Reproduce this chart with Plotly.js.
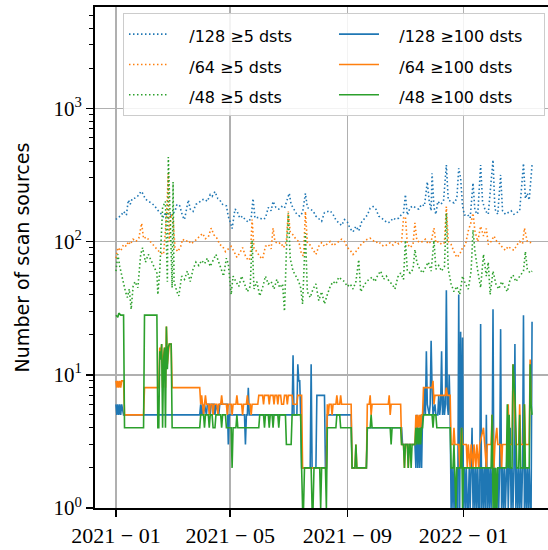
<!DOCTYPE html>
<html><head><meta charset="utf-8">
<script src="https://cdn.plot.ly/plotly-3.0.1.min.js"></script>
<style>html,body{margin:0;padding:0;overflow:hidden;background:#fff}#chart{width:560px;height:550px}</style>
</head><body><div id="chart"></div>
<script>
// day offsets from START_DATE
const START_DATE = '2021-01-01';

const blue5 = [[0,146],[2,152],[5,155],[8,168],[11,158],[13,205],[15,190],[17,210],[20,212],[22,216],[25,228],[26,238],[28,230],[31,208],[34,200],[37,195],[40,187],[42,178],[45,168],[48,160],[50,152],[52,165],[55,150],[58,160],[62,168],[64,190],[67,185],[70,155],[72,146],[76,205],[78,175],[81,168],[84,190],[87,195],[90,205],[93,208],[96,200],[99,225],[101,218],[104,237],[107,210],[109,205],[112,190],[116,185],[118,154],[120,140],[122,125],[125,175],[127,170],[130,150],[133,155],[136,145],[139,140],[142,150],[144,210],[146,150],[150,152],[154,146],[157,150],[160,180],[163,170],[165,200],[168,180],[171,175],[174,183],[177,178],[182,230],[184,190],[187,175],[190,160],[193,155],[196,165],[199,230],[201,180],[204,175],[207,170],[210,155],[213,148],[216,142],[219,165],[222,168],[225,170],[228,160],[231,145],[234,138],[237,132],[240,146],[243,140],[246,125],[249,118],[252,130],[255,120],[258,140],[261,150],[264,158],[267,178],[270,183],[273,175],[276,155],[279,150],[282,145],[285,138],[288,140],[291,150],[294,146],[297,150],[300,160],[302,165],[304,225],[306,158],[309,180],[312,185],[315,178],[318,175],[321,190],[324,185],[327,280],[329,200],[331,170],[332,325],[334,180],[336,160],[338,200],[341,190],[344,200],[347,375],[349,205],[352,200],[355,195],[358,210],[360,355],[362,300],[364,185],[366,158],[369,160],[372,150],[375,275],[377,170],[380,160],[383,375],[385,200],[388,170],[391,160],[396,410],[398,175],[401,160],[404,316],[406,170],[409,160],[412,165],[415,170],[418,160],[421,165],[424,170],[428,385],[430,210],[432,230],[434,205],[437,375]];

const orange5 = [[0,75],[2,90],[5,85],[8,95],[11,92],[13,100],[15,95],[18,104],[21,100],[24,106],[27,137],[29,105],[32,108],[35,102],[38,96],[41,90],[44,86],[47,82],[50,80],[53,150],[55,325],[56,100],[58,160],[60,150],[62,90],[65,84],[68,92],[70,104],[73,100],[76,102],[79,96],[82,100],[85,104],[88,110],[91,115],[94,105],[97,108],[100,126],[103,112],[106,106],[109,95],[112,92],[115,84],[118,88],[121,92],[124,84],[127,76],[130,82],[133,90],[136,78],[139,72],[141,75],[143,146],[145,88],[148,84],[151,77],[154,74],[157,92],[160,95],[163,88],[165,126],[167,100],[170,96],[173,98],[176,90],[179,100],[181,168],[183,118],[186,112],[189,104],[192,100],[195,80],[197,78],[199,168],[201,98],[204,94],[207,86],[210,80],[213,92],[216,98],[219,92],[222,96],[225,100],[228,93],[231,96],[234,100],[237,104],[240,100],[243,90],[246,86],[249,80],[252,84],[255,90],[258,96],[261,100],[264,104],[267,106],[270,102],[273,98],[276,100],[279,94],[282,92],[285,95],[288,98],[291,94],[294,100],[297,96],[300,100],[302,150],[304,154],[306,96],[309,90],[312,95],[314,138],[316,102],[319,98],[322,100],[325,104],[328,96],[331,100],[334,126],[336,98],[339,100],[342,95],[345,98],[347,183],[349,100],[352,95],[355,84],[358,76],[361,80],[364,90],[367,94],[370,120],[373,140],[375,163],[377,120],[380,100],[383,130],[386,110],[389,125],[391,95],[394,100],[397,110],[400,100],[403,96],[406,90],[409,86],[412,92],[415,88],[418,86],[421,94],[424,100],[427,96],[429,126],[432,100],[435,98],[437,100]];

const green5 = [[0,60],[2,80],[4,65],[6,55],[8,48],[10,42],[12,38],[14,44],[16,31],[18,46],[20,50],[23,45],[26,80],[28,90],[31,70],[34,80],[37,72],[40,65],[43,58],[44,40],[46,60],[49,180],[52,200],[54,50],[55,430],[57,150],[59,45],[60,280],[61,50],[64,42],[66,39],[69,55],[72,52],[75,60],[78,50],[81,62],[84,70],[87,66],[90,72],[93,68],[96,75],[99,65],[102,72],[105,80],[108,70],[111,60],[113,55],[116,75],[118,68],[121,40],[123,55],[126,50],[129,46],[132,55],[135,48],[138,42],[141,46],[143,102],[145,44],[148,50],[151,39],[154,45],[157,55],[160,48],[163,50],[166,44],[169,52],[172,45],[175,48],[177,30],[179,85],[181,163],[183,75],[186,60],[189,55],[192,50],[194,45],[196,34],[199,116],[201,42],[204,38],[207,44],[210,48],[213,36],[216,42],[219,34],[222,40],[225,46],[228,50],[231,48],[234,54],[237,52],[240,50],[243,46],[246,48],[249,44],[252,50],[255,73],[257,42],[260,46],[263,50],[266,52],[269,54],[272,50],[275,56],[278,60],[281,52],[284,55],[287,50],[290,48],[293,44],[296,54],[299,58],[302,52],[304,102],[306,60],[309,58],[312,62],[314,87],[316,70],[319,62],[322,58],[325,64],[328,70],[331,60],[334,102],[336,62],[339,66],[342,60],[345,65],[347,163],[349,62],[352,48],[355,42],[358,46],[361,40],[364,55],[367,48],[370,44],[373,60],[375,122],[377,85],[380,60],[383,45],[386,80],[389,55],[391,70],[393,40],[396,60],[399,48],[402,44],[405,50],[408,46],[411,42],[414,52],[417,56],[420,50],[423,54],[426,58],[428,60],[430,84],[432,62],[435,58],[437,60]];

const blue100 = [[0,6],[1,5],[2,6],[3,5],[4,6],[5,5],[6,6],[8,5],[88,5],[89,6],[90,5],[91,6],[92,5],[93,6],[95,5],[96,6],[98,6],[99,5],[100,6],[103,6],[104,5],[105,6],[108,5],[109,6],[117,6],[118,3],[119,5],[135,5],[136,3],[137,5],[138,5],[139,8],[140,5],[185,5],[186,14],[187,5],[190,5],[191,12],[192,9],[193,9],[194,5],[195,2],[204,2],[205,12],[206,2],[210,2],[211,7],[219,7],[220,2],[221,2],[222,5],[247,5],[248,2],[263,2],[264,4],[300,4],[301,3],[314,3],[315,2],[316,5],[317,2],[318,4],[319,2],[320,5],[321,2],[322,5],[323,5],[324,8],[325,5],[326,15],[327,6],[329,5],[330,6],[331,18],[332,8],[333,5],[335,6],[336,5],[338,5],[339,7],[340,5],[341,6],[342,15],[343,5],[344,7],[345,5],[346,6],[347,43],[348,6],[349,5],[350,10],[351,5],
[352,1],[353,2],[354,1],[355,2],[356,1],[357,1],[358,2],[359,1],[360,40],[361,1],[362,21],[363,2],[364,19],[365,1],[366,2],[367,1],[368,2],[369,1],[370,1],[371,2],[372,1],[373,2],[374,4],[375,1],[376,2],[377,1],[378,2],[379,1],[380,2],[381,1],[382,1],[383,24],[384,1],[385,2],[386,1],[387,2],[388,1],[389,5],[390,1],[391,2],[392,1],[393,2],[394,1],[395,2],[396,31],[397,1],[398,2],[399,1],[400,1],[401,2],[402,1],[403,2],[404,22],[405,1],[406,2],[407,1],[408,2],[409,1],[410,2],[411,3],[412,1],[413,2],[414,4],[415,1],[416,2],[417,1],[418,2],[419,17],[420,1],[421,2],[422,1],[423,2],[424,1],[425,2],[426,1],[427,2],[428,28],[429,1],[430,2],[431,1],[432,2],[433,1],[434,2],[435,1],[436,1],[437,25]];

const orange100 = [[0,9],[1,8],[2,9],[3,8],[4,9],[5,8],[6,9],[8,9],[9,5],[29,5],[30,8],[43,8],[44,8],[45,8],[46,16],[47,14],[48,17],[49,8],[50,14],[51,16],[52,8],[53,23],[54,12],[55,16],[56,17],[58,17],[59,8],[88,8],[89,6],[90,7],[91,6],[92,5],[93,6],[94,7],[95,6],[97,6],[98,5],[99,6],[101,6],[102,5],[103,6],[106,6],[107,5],[108,6],[110,6],[111,7],[112,6],[116,6],[117,5],[118,6],[121,6],[122,5],[123,6],[126,6],[127,7],[128,6],[132,6],[133,5],[134,6],[137,6],[138,7],[139,6],[141,6],[142,5],[143,6],[149,6],[150,7],[154,7],[155,6],[156,7],[160,7],[161,6],[162,7],[165,7],[166,6],[167,7],[169,7],[170,6],[171,7],[173,7],[174,6],[176,6],[177,7],[179,7],[180,6],[181,7],[185,7],[186,6],[190,6],[191,7],[195,7],[196,2],[221,2],[222,6],[223,5],[224,6],[226,6],[227,5],[228,6],[231,6],[232,7],[233,6],[235,6],[236,7],[237,6],[247,6],[248,2],[251,2],[252,3],[253,2],[263,2],[264,6],[266,6],[267,7],[268,5],[269,6],[286,6],[287,7],[288,5],[289,6],[299,6],[300,3],[302,3],[303,2],[304,3],[306,3],[307,2],[308,3],[314,3],[315,5],[316,4],[317,5],[318,4],[319,5],[320,4],[321,5],[322,5],[323,8],[332,8],[333,9],[334,6],[335,7],[346,7],[347,8],[348,7],[351,7],[352,3],[354,3],[355,4],[356,3],[360,3],[361,2],[362,3],[363,4],[364,3],[368,3],[369,2],[370,3],[372,2],[373,3],[375,2],[376,3],[378,2],[379,3],[381,2],[382,3],[386,4],[387,3],[389,2],[390,3],[394,3],[395,5],[396,3],[397,2],[398,3],[400,4],[401,3],[404,3],[405,2],[406,3],[411,3],[412,6],[413,3],[416,3],[417,12],[418,8],[419,5],[420,3],[423,3],[424,6],[425,3],[428,3],[429,6],[430,3],[434,3],[435,13],[436,6],[437,6]];

const green100 = [[0,28],[2,27],[3,29],[5,28],[8,28],[9,4],[29,4],[30,28],[43,28],[44,4],[45,4],[46,15],[47,13],[48,17],[49,4],[50,13],[51,16],[52,4],[53,23],[54,11],[55,16],[56,17],[58,17],[59,4],[88,4],[89,5],[92,5],[93,4],[94,5],[97,5],[98,4],[99,5],[101,5],[102,4],[104,4],[105,5],[110,5],[111,4],[112,5],[115,5],[116,4],[121,4],[122,2],[123,4],[126,4],[127,5],[128,4],[150,4],[151,5],[155,5],[156,4],[157,5],[160,5],[161,4],[162,5],[164,5],[165,4],[166,5],[170,5],[171,4],[172,5],[178,5],[179,3],[184,3],[185,5],[194,5],[195,2],[196,1],[197,1],[198,2],[205,2],[206,1],[207,1],[208,2],[214,2],[215,1],[216,2],[220,2],[221,1],[222,4],[231,4],[232,5],[235,5],[236,4],[247,4],[248,2],[251,2],[252,3],[253,2],[263,2],[264,4],[267,4],[268,5],[269,4],[288,4],[289,3],[290,4],[299,4],[300,3],[302,3],[303,2],[304,3],[306,3],[307,2],[308,3],[309,3],[310,2],[311,3],[314,3],[315,4],[316,3],[317,4],[318,3],[319,4],[320,3],[321,4],[322,4],[323,5],[332,5],[333,4],[334,5],[336,5],[337,4],[351,4],[352,2],[354,2],[355,3],[356,2],[357,1],[358,2],[362,2],[363,4],[364,1],[365,2],[394,2],[395,5],[396,1],[397,2],[398,1],[399,2],[400,1],[401,2],[410,2],[411,6],[412,2],[413,5],[414,2],[416,2],[417,12],[418,9],[419,7],[420,4],[421,2],[423,2],[424,5],[425,2],[428,2],[429,6],[430,2],[434,2],[435,12],[436,6],[437,5]];

const seriesNames = ['/128 \u22655 dsts','/64 \u22655 dsts','/48 \u22655 dsts','/128 \u2265100 dsts','/64 \u2265100 dsts','/48 \u2265100 dsts'];
const xTickDates = ['2021-01-01','2021-05-01','2021-09-01','2022-01-01'];
const xTickLabels = ['2021 \u2212 01','2021 \u2212 05','2021 \u2212 09','2022 \u2212 01'];
const yTickVals = [1,10,100,1000];
const yTickLabels = ['10<sup>0</sup>','10<sup>1</sup>','10<sup>2</sup>','10<sup>3</sup>'];

const base = Date.UTC(2021,0,1);
const toDate = d => new Date(base + d*86400000).toISOString().slice(0,10);
const xs = p => p.map(q => toDate(q[0]));
const ys = p => p.map(q => q[1]);

const C = ['#1f77b4','#ff7f0e','#2ca02c'];
const dotted = '1.5px,2.5px';
const sets = [blue5, orange5, green5, blue100, orange100, green100];
const ranks = [1,3,5,2,4,6];
const traces = sets.map((s,i) => ({
  x: xs(s), y: ys(s), mode: 'lines', type: 'scatter',
  name: '<span style="font-size:16px">\u00a0\u00a0\u00a0' + seriesNames[i] + '</span>', legendrank: ranks[i],
  line: {color: C[i%3], width: 1.6, dash: i<3 ? dotted : 'solid'},
  hoverinfo: 'skip'
}));

const minorVals = [];
for (let e = 0; e < 4; e++) for (let k = 2; k <= 9; k++) minorVals.push(k*Math.pow(10,e));

const layout = {
  width: 560, height: 550,
  margin: {l: 95, r: 7, t: 7, b: 42},
  paper_bgcolor: '#fff', plot_bgcolor: '#fff',
  showlegend: true,
  xaxis: {
    type: 'date', range: ['2020-12-10','2022-04-05'],
    tickmode: 'array', tickvals: xTickDates, ticktext: xTickLabels,
    ticks: 'outside', ticklen: 7, tickwidth: 1.5, tickcolor: '#000',
    showline: true, linecolor: '#000', linewidth: 2, mirror: true,
    showgrid: true, gridcolor: '#b0b0b0', gridwidth: 1.5, zeroline: false,
    tickfont: {family: 'Liberation Serif, serif', size: 22, color: '#000'}
  },
  yaxis: {
    type: 'log', range: [0, 3.76],
    tickmode: 'array', tickvals: yTickVals, ticktext: yTickLabels,
    ticks: 'outside', ticklen: 7, tickwidth: 1.5, tickcolor: '#000',
    minor: {tickmode: 'array', tickvals: minorVals, ticks: 'outside', ticklen: 4, tickwidth: 1, tickcolor: '#000', showgrid: false},
    showline: true, linecolor: '#000', linewidth: 2, mirror: true,
    showgrid: true, gridcolor: '#b0b0b0', gridwidth: 1.5, zeroline: false,
    tickfont: {family: 'Liberation Serif, serif', size: 21, color: '#000'},
    title: {text: 'Number of scan sources', font: {family: 'DejaVu Sans, sans-serif', size: 19, color: '#000'}, standoff: 19}
  },
  legend: {
    orientation: 'h', x: 0.9825, y: 0.988, xanchor: 'right', yanchor: 'top',
    bgcolor: 'rgba(255,255,255,0.85)', bordercolor: '#cccccc', borderwidth: 1,
    font: {family: 'DejaVu Sans, sans-serif', size: 21, color: '#000'},
    itemwidth: 40, entrywidth: 155, entrywidthmode: 'pixels'
  }
};

Plotly.newPlot('chart', traces, layout, {staticPlot: true, displayModeBar: false});
</script>
</body></html>
